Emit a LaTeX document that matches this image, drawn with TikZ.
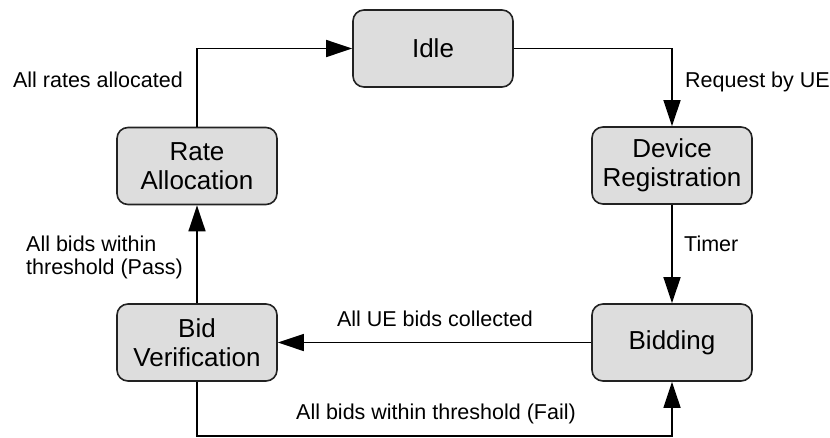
\documentclass[tikz,border=0pt]{standalone}
\usepackage{fontspec}
\setmainfont{Liberation Sans}
\usetikzlibrary{arrows.meta}
\definecolor{boxgray}{HTML}{DDDDDD}
\definecolor{boxline}{HTML}{222222}
\begin{document}
\begin{tikzpicture}[x=1pt,y=-1pt,
  state/.style={draw=boxline, line width=1.6pt, fill=boxgray, rounded corners=11pt,
    minimum width=160pt, minimum height=77pt, inner sep=0pt, align=center,
    font=\fontsize{26}{29}\selectfont},
  edge/.style={line width=1.4pt, -{Triangle[length=26pt,width=17pt]}},
  plain/.style={line width=1.4pt},
  lbl/.style={inner sep=0pt, font=\fontsize{21.5}{23}\selectfont}]
\useasboundingbox (0,0) rectangle (830,437);

% states
\node[state] (idle) at (433,48.5) {Idle};
\node[state] (reg)  at (672,165.5) {Device\\Registration};
\node[state] (bid)  at (672,342.5) {Bidding};
\node[state] (ver)  at (197,342.5) {Bid\\Verification};
\node[state] (rate) at (197,166) {Rate\\Allocation};

% transitions
\draw[edge] (idle.east) -| (reg.north);
\draw[edge] (reg) -- (bid);
\draw[edge] (bid) -- (ver);
\draw[edge] (ver) -- (rate);
\draw[edge] (rate.north) |- (idle.west);
\coordinate (failL) at (197,435.8);
\coordinate (failR) at (672,435.8);
\draw[edge] (ver.south) -- (failL) -- (failR) -- (bid.south);

% transition labels
\node[lbl, anchor=base east] (l1) at (183,87) {All rates allocated};
\node[lbl, anchor=base west] (l2) at (685,87) {Request by UE};
\node[lbl, anchor=base west] (l3) at (684,251) {Timer};
\node[lbl, anchor=base] (l4) at (435,326) {All UE bids collected};
\node[lbl, anchor=base] (l5) at (436,419) {All bids within threshold (Fail)};
\node[lbl, anchor=west, align=left] (l6) at (26,257.5) {All bids within\\threshold (Pass)};
\end{tikzpicture}
\end{document}
